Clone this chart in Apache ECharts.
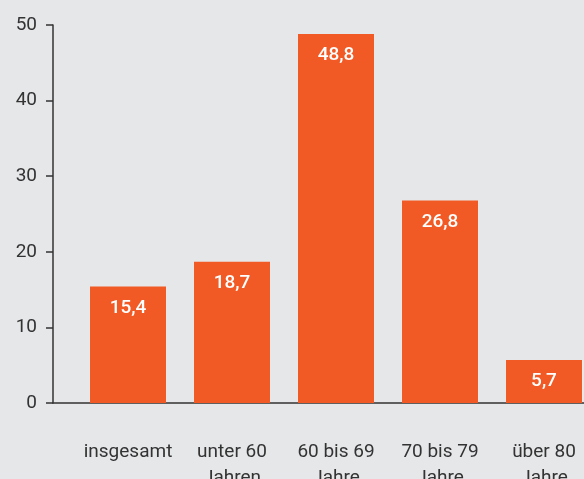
<!DOCTYPE html>
<html><head><meta charset="utf-8">
<script src="https://cdn.jsdelivr.net/npm/echarts@6/dist/echarts.min.js"></script>
<style>html,body{margin:0;padding:0;background:#e6e7e9;}#c{width:584px;height:479px;}</style>
</head><body><div id="c"></div>
<script>
const categories = ['insgesamt', 'unter 60\nJahren', '60 bis 69\nJahre', '70 bis 79\nJahre', 'über 80\nJahre'];
const values = [15.4, 18.7, 48.8, 26.8, 5.7];
const yTicks = [0, 10, 20, 30, 40, 50];

const font = 'Roboto, "Liberation Sans", sans-serif';
const chart = echarts.init(document.getElementById('c'));
chart.setOption({
  backgroundColor: '#e6e7e9',
  animation: false,
  grid: [
    {left: 53, right: -12, top: 25, bottom: 76, outerBoundsMode: 'none', containLabel: false},
    {left: 76, right: -12, top: 25, bottom: 76, outerBoundsMode: 'none', containLabel: false}
  ],
  xAxis: [
    {gridIndex: 0, type: 'value', min: 0, max: 1, axisLine: {show: true, lineStyle: {color: '#333', width: 1.5}},
     axisTick: {show: false}, axisLabel: {show: false}, splitLine: {show: false}},
    {gridIndex: 1, type: 'category', data: categories, axisLine: {show: false}, axisTick: {show: false},
     axisLabel: {color: '#333', fontSize: 19, fontFamily: font, margin: 36, lineHeight: 26, interval: 0}}
  ],
  yAxis: [
    {gridIndex: 0, type: 'value', min: yTicks[0], max: yTicks[yTicks.length - 1], interval: 10,
     axisLine: {show: true, lineStyle: {color: '#333', width: 1.5}},
     axisTick: {show: true, length: 7, lineStyle: {color: '#333', width: 1.5}},
     axisLabel: {color: '#333', fontSize: 19, fontFamily: font, margin: 16}, splitLine: {show: false}},
    {gridIndex: 1, type: 'value', min: yTicks[0], max: yTicks[yTicks.length - 1], interval: 10,
     show: false}
  ],
  series: [{
    type: 'bar', xAxisIndex: 1, yAxisIndex: 1, data: values, barWidth: 76,
    itemStyle: {color: '#f15a24'},
    label: {show: true, position: 'insideTop', distance: 12, color: '#fff', fontSize: 19, fontWeight: 500, fontFamily: font,
      formatter: p => String(p.value).replace('.', ',')}
  }]
});
</script></body></html>
